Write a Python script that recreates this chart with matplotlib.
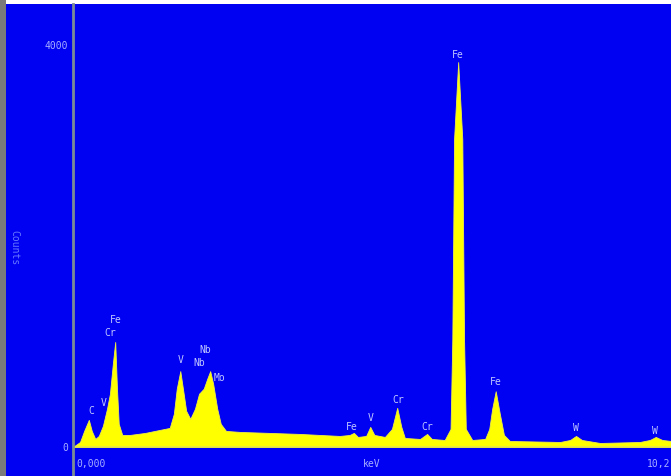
import matplotlib
matplotlib.use("Agg")
import matplotlib.pyplot as plt
from matplotlib.patches import Rectangle
from matplotlib.lines import Line2D

# spectrum (keV, counts)
energy = [0.00, 0.12, 0.19, 0.27, 0.32, 0.38, 0.44, 0.51, 0.58, 0.63, 0.68, 0.72,
          0.75, 0.78, 0.84, 0.97, 1.23, 1.48, 1.65, 1.72, 1.77, 1.83, 1.88, 1.93,
          2.00, 2.08, 2.15, 2.23, 2.29, 2.34, 2.39, 2.46, 2.52, 2.61, 2.85, 3.36,
          3.87, 4.55, 4.72, 4.79, 4.86, 5.00, 5.07, 5.14, 5.32, 5.44, 5.53, 5.60,
          5.66, 5.92, 6.04, 6.12, 6.34, 6.44, 6.47, 6.485, 6.50, 6.57, 6.64, 6.655,
          6.67, 6.70, 6.81, 7.03, 7.10, 7.15, 7.21, 7.28, 7.35, 7.45, 8.31, 8.48,
          8.58, 8.68, 8.99, 9.67, 9.84, 9.94, 10.05, 10.20]
counts = [0, 50, 160, 270, 160, 80, 110, 210, 380, 530, 830, 1045,
          580, 230, 120, 120, 140, 170, 190, 330, 580, 755, 560, 360,
          280, 380, 530, 580, 680, 755, 630, 380, 230, 160, 150, 140,
          130, 110, 120, 140, 100, 110, 200, 120, 100, 180, 390, 200,
          90, 80, 130, 80, 70, 180, 1075, 2070, 3065, 3830, 3065, 2070,
          1075, 180, 70, 80, 180, 380, 555, 330, 120, 60, 50, 70,
          110, 70, 40, 50, 70, 100, 70, 60]

# peak labels
peak_names = ["C", "V", "Cr", "Fe", "V", "Nb", "Nb", "Mo", "Fe", "V", "Cr", "Cr",
              "Fe", "Fe", "W", "W"]
peak_kev = [0.31, 0.53, 0.63, 0.73, 1.83, 2.26, 2.15, 2.50, 4.76, 5.08, 5.54, 6.05,
            6.57, 7.21, 8.58, 9.93]
label_counts = [370, 450, 1140, 1275, 875, 980, 850, 700, 210, 300, 480, 210,
                3910, 655, 200, 170]

W, H = 671, 477
bg = "#0000F2"
txt = "#C0C8FF"

fig = plt.figure(figsize=(W / 100, H / 100), dpi=100, facecolor=bg)

def fx(x):
    return x / W

def fy(y):
    return 1 - y / H

ax = fig.add_axes([fx(73), fy(448), fx(671) - fx(73), fy(5) - fy(448)])
ax.set_facecolor(bg)
ax.fill_between(energy, counts, 0, color="#FFFF00", lw=0.6, edgecolor="#F0F040")
ax.axhline(0, color="#E8E840", lw=1.5)
ax.set_xlim(0, 10.2)
ax.set_ylim(0, 4000 * 443 / 402)
ax.set_xticks([])
ax.set_yticks([])
for s in ax.spines.values():
    s.set_visible(False)

for name, e, c in zip(peak_names, peak_kev, label_counts):
    ax.text(e, c, name, color=txt, fontsize=7, family="DejaVu Sans Mono",
            ha="center", va="center")

# axis line, screenshot borders
fig.add_artist(Line2D([fx(73), fx(73)], [0, fy(5)], color="#7C8C94", lw=2))
fig.add_artist(Rectangle((0, fy(5)), 1, 1 - fy(5), color="white", lw=0))
fig.add_artist(Rectangle((0, 0), fx(6), 1, color="#7A7A7A", lw=0))

mono = dict(family="DejaVu Sans Mono", fontsize=7, color="#A8B0FF")
fig.text(fx(68), fy(46), "4000", ha="right", va="center", **mono)
fig.text(fx(68), fy(448), "0", ha="right", va="center", **mono)
fig.text(fx(76), fy(464), "0,000", ha="left", va="center", **mono)
fig.text(fx(372), fy(464), "keV", ha="center", va="center", **mono)
fig.text(fx(670), fy(464), "10,2", ha="right", va="center", **mono)
fig.text(fx(14), fy(248), "Counts", ha="center", va="center", rotation=270,
         family="DejaVu Sans Mono", fontsize=7, color="#6878FF")

fig.savefig("out.png", dpi=100, facecolor=bg)
